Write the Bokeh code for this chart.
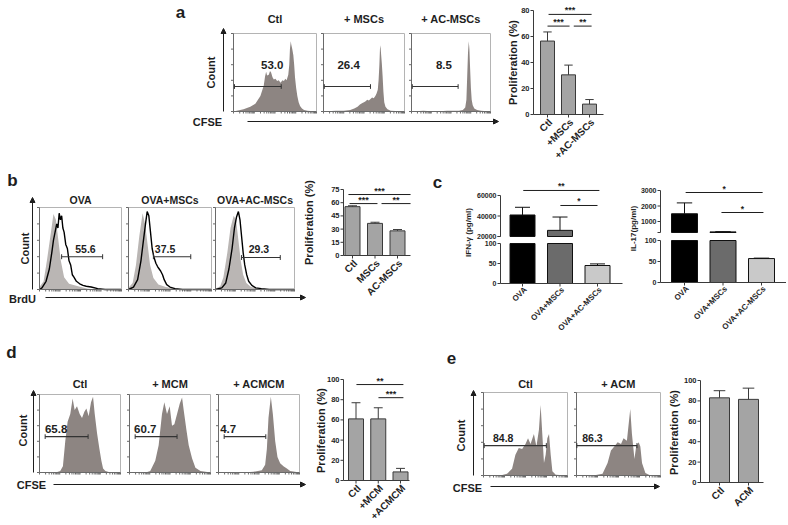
import math
from bokeh.plotting import figure
from bokeh.models import Range1d, Arrow, NormalHead
from bokeh.embed import file_html
from bokeh.resources import INLINE
from bokeh.core.properties import value

FONT = "Liberation Sans"
INK = "#1e1e1e"
BOX = "#b4b4b4"
FLOW_FILL = "#8d8582"
ISO_FILL = "#bab6b4"
BAR_FILL = "#a4a4a4"
BAR_LINE = "#3a3a3a"

# ------------------------------------------------------------------ data
# flow histograms: x = channel (0-1000 across the window), y = relative count (0-100)
a_titles = ["Ctl", "+ MSCs", "+ AC-MSCs"]
a_ctl_x = [0, 40, 121, 202, 263, 324, 364, 380, 393, 405, 425, 440, 453, 470, 486, 505, 526, 545, 567, 590,
           607, 625, 640, 660, 672, 680, 690, 696, 708, 721, 731, 741, 755, 769, 785, 802, 825, 850, 891, 1000]
a_ctl_y = [0, 1, 3, 6, 10, 20, 33, 45, 51, 46, 47, 52, 50, 44, 41, 42, 39, 40, 37, 40,
           39, 42, 40, 47, 60, 80, 90, 86, 80, 72, 60, 44, 30, 20, 12, 7, 4, 2, 1, 0]
a_msc_x = [0, 150, 250, 330, 380, 420, 450, 480, 500, 520, 540, 560, 580, 600, 620, 640, 655, 670, 680, 690,
           697, 703, 710, 720, 730, 740, 750, 765, 790, 830, 1000]
a_msc_y = [0, 1, 1, 2, 4, 6, 9, 11, 12, 13, 15, 14, 16, 18, 17, 20, 23, 28, 40, 60,
           80, 85, 75, 62, 45, 25, 12, 6, 3, 1, 0]
a_ac_x = [0, 150, 300, 450, 600, 650, 680, 695, 705, 715, 725, 733, 742, 752, 762, 775, 795, 830, 880, 1000]
a_ac_y = [0, 1, 0, 1, 1, 2, 5, 15, 45, 75, 90, 80, 55, 30, 15, 8, 4, 2, 1, 0]
a_gate_start = [12, 10, 10]
a_gate_end = [575, 580, 590]
a_gate_level = [32, 32, 32]
a_pct = ["53.0", "26.4", "8.5"]

b_titles = ["OVA", "OVA+MSCs", "OVA+AC-MSCs"]
b_ova_iso_x = [0, 50, 90, 140, 170, 200, 230, 260, 300, 360, 470, 590, 700, 1000]
b_ova_iso_y = [3, 10, 35, 70, 92, 85, 60, 35, 15, 7, 4, 1, 0, 0]
b_ova_x = [0, 30, 80, 120, 150, 170, 190, 210, 225, 240, 255, 270, 285, 300, 320, 340, 360, 380, 400, 420,
           450, 490, 530, 570, 630, 710, 800, 1000]
b_ova_y = [0, 2, 10, 25, 45, 60, 70, 80, 75, 93, 85, 90, 75, 70, 55, 50, 35, 30, 18, 15,
           10, 7, 5, 4, 3, 1, 0, 0]
b_msc_iso_x = [0, 50, 90, 130, 170, 200, 230, 260, 300, 360, 450, 560, 700, 1000]
b_msc_iso_y = [2, 8, 30, 65, 93, 80, 55, 30, 14, 6, 3, 1, 0, 0]
b_msc_x = [0, 60, 110, 150, 180, 205, 225, 245, 265, 285, 305, 330, 350, 370, 390, 410, 430, 460, 500, 560, 650, 1000]
b_msc_y = [0, 3, 12, 35, 60, 80, 95, 90, 70, 50, 40, 32, 28, 25, 22, 18, 12, 6, 3, 1, 0, 0]
b_ac_iso_x = [0, 60, 100, 150, 190, 230, 260, 290, 320, 350, 390, 450, 550, 650, 1000]
b_ac_iso_y = [1, 4, 15, 45, 75, 90, 85, 60, 35, 18, 8, 3, 1, 0, 0]
b_ac_x = [0, 80, 130, 170, 210, 240, 265, 290, 310, 330, 350, 370, 395, 420, 460, 510, 580, 680, 1000]
b_ac_y = [0, 2, 8, 25, 50, 75, 88, 95, 85, 65, 45, 30, 18, 10, 5, 2, 1, 0, 0]
b_gate_start = [270, 300, 330]
b_gate_end = [770, 750, 820]
b_gate_level = [40, 40, 39]
b_pct = ["55.6", "37.5", "29.3"]

d_titles = ["Ctl", "+ MCM", "+ ACMCM"]
d_ctl_x = [0, 200, 256, 289, 318, 347, 380, 409, 434, 463, 496, 525, 554, 579, 607, 636, 661, 682, 711, 740,
           764, 785, 814, 876, 1000]
d_ctl_y = [0, 0, 2, 8, 40, 65, 75, 95, 80, 85, 75, 70, 78, 82, 72, 90, 97, 75, 50, 30, 15, 5, 2, 0, 0]
d_mcm_x = [0, 200, 256, 318, 360, 401, 430, 463, 496, 525, 554, 587, 620, 649, 669, 702, 731, 773, 814, 876, 1000]
d_mcm_y = [0, 0, 2, 15, 35, 75, 90, 75, 85, 60, 62, 75, 88, 96, 80, 55, 35, 18, 6, 2, 0]
d_acm_x = [0, 300, 432, 535, 576, 597, 617, 646, 671, 700, 728, 761, 802, 844, 885, 1000]
d_acm_y = [0, 0, 1, 3, 10, 30, 70, 97, 75, 40, 20, 12, 8, 5, 2, 0]
d_gate_start = [70, 70, 70]
d_gate_end = [600, 587, 584]
d_gate_level = [46, 46, 46]
d_pct = ["65.8", "60.7", "4.7"]

e_titles = ["Ctl", "+ ACM"]
e_ctl_x = [0, 200, 280, 340, 380, 420, 460, 500, 530, 560, 600, 630, 660, 680, 700, 720, 740, 760, 780, 800,
           820, 860, 1000]
e_ctl_y = [0, 0, 2, 8, 25, 33, 32, 38, 45, 38, 50, 35, 55, 85, 50, 15, 25, 45, 50, 25, 5, 1, 0]
e_acm_x = [0, 200, 310, 370, 410, 450, 490, 530, 560, 600, 640, 660, 690, 710, 740, 760, 780, 820, 880, 1000]
e_acm_y = [0, 0, 2, 15, 30, 35, 40, 38, 45, 42, 80, 50, 20, 35, 40, 35, 15, 3, 0, 0]
e_gate_start = [8, 4]
e_gate_end = [748, 720]
e_gate_level = [36, 36]
e_pct = ["84.8", "86.3"]

flow_count_ticks = [0, 20, 40, 60, 80, 100]

# bar charts
a_cats = ["Ctl", "+MSCs", "+AC-MSCs"]
a_vals = [56.5, 30.5, 8.0]
a_err = [7.0, 7.5, 3.5]
a_ticks = [0, 20, 40, 60, 80]
a_sig_from = [0.05, 0.0, 1.25]
a_sig_to = [2.1, 1.05, 2.1]
a_sig_level = [77, 68, 68]
a_sig_text = ["***", "***", "**"]

b_cats = ["Ctl", "MSCs", "AC-MSCs"]
b_vals = [55.5, 36.5, 28.0]
b_err = [1.0, 1.3, 1.5]
b_ticks = [0, 15, 30, 45, 60, 75]
b_sig_from = [-0.18, -0.13, 1.29]
b_sig_to = [2.58, 1.11, 2.58]
b_sig_level = [69.3, 59, 59]
b_sig_text = ["***", "***", "**"]

c_cats = ["OVA", "OVA+MSCs", "OVA+AC-MSCs"]
c_colors = ["#000000", "#6b6b6b", "#c9c9c9"]
ifn_vals = [41000, 26000, 45]
ifn_err = [7500, 13000, 4]
ifn_low_ticks = [0, 50, 100]
ifn_up_ticks = [20000, 40000, 60000]
ifn_sig_from = [0.02, 1.01]
ifn_sig_to = [2.05, 2.0]
ifn_sig_level = [64900, 50250]
ifn_sig_text = ["**", "*"]
il17_vals = [1500, 330, 57]
il17_err = [700, 15, 1]
il17_low_ticks = [0, 50, 100]
il17_up_ticks = [1000, 2000, 3000]
il17_up_min = 290
il17_sig_from = [0.03, 0.96]
il17_sig_to = [2.03, 2.05]
il17_sig_level = [2870, 1580]
il17_sig_text = ["*", "*"]

d_cats = ["Ctl", "+MCM", "+ACMCM"]
d_vals = [61, 61, 8.5]
d_err = [16, 11, 3.5]
d_ticks = [0, 20, 40, 60, 80, 100]
d_sig_from = [0.02, 1.01]
d_sig_to = [2.13, 2.13]
d_sig_level = [95, 82]
d_sig_text = ["**", "***"]

e_cats = ["Ctl", "ACM"]
e_vals = [83, 81.5]
e_err = [7, 11]
e_ticks = [0, 20, 40, 60, 80, 100]

# ------------------------------------------------------------------ canvas
# the page template has no body margin, so the canvas starts at the window's top-left corner
X0, X1, Y0, Y1 = 0, 786, 0, 523
p = figure(width=X1 - X0, height=Y1 - Y0, x_range=Range1d(X0, X1), y_range=Range1d(Y1, Y0),
           output_backend="svg", toolbar_location=None, min_border=0,
           x_axis_location=None, y_axis_location=None)
p.grid.visible = False
p.outline_line_color = None
p.background_fill_color = "white"

XR, YR = {}, {}


def mk_range(v0, p0, v1, p1, lo, hi):
    s = (v1 - v0) / (p1 - p0)
    return Range1d(start=v0 + (lo - p0) * s, end=v0 + (hi - p0) * s)


def frame(name, xmap, ymap):
    XR[name] = mk_range(*xmap, X0, X1)
    YR[name] = mk_range(*ymap, Y1, Y0)
    return dict(x_range_name=name, y_range_name=name)


def txt(x, y, s, size, k=None, angle=0.0, align="center", base="middle", bold=True, color=INK, xo=0, yo=0):
    k = k or {}
    xs = x if isinstance(x, list) else [x]
    ys = y if isinstance(y, list) else [y] * len(xs)
    ss = s if isinstance(s, list) else [s] * len(xs)
    p.text(x=xs, y=ys, text=ss, angle=angle, text_align=align, text_baseline=base,
           text_font=value(FONT), text_font_size=f"{size}px",
           text_font_style="bold" if bold else "normal", text_color=color,
           x_offset=xo, y_offset=yo, **k)


def arrow(xs, ys, xe, ye):
    p.add_layout(Arrow(x_start=xs, y_start=ys, x_end=xe, y_end=ye, line_color=INK, line_width=1,
                       end=NormalHead(size=5, fill_color=INK, line_color=INK)))


# minor log ticks for the flow channel axis (4 decades across the window)
flow_ch_ticks = [250 * (d + math.log10(m)) for d in range(4) for m in range(1, 10)] + [1000]


def flow(name, box, hx, hy, g0, g1, gl, lab, lab_x, lab_y, lab_size, iso=None):
    L, R, T, B = box
    k = frame(name, (0, L, 1000, R), (0, B, 100, T))
    if iso is None:
        p.varea(x=hx, y1=0, y2=hy, fill_color=FLOW_FILL, **k)
    else:
        p.varea(x=iso[0], y1=0, y2=iso[1], fill_color=ISO_FILL, **k)
        p.line(x=hx, y=hy, line_color="black", line_width=1.4, **k)
    p.quad(left=[0], right=[1000], bottom=[0], top=[100], fill_color=None, line_color=BOX, line_width=1, **k)
    p.segment(x0=[0, 0], y0=[0, 0], x1=[0, 1000], y1=[100, 0], line_color="#6a6a6a", line_width=1, **k)
    p.ray(x=0, y=flow_count_ticks, length=2.5, length_units="screen", angle=math.pi,
          line_color="#6a6a6a", line_width=1, **k)
    p.ray(x=flow_ch_ticks, y=0, length=2, length_units="screen", angle=-math.pi / 2,
          line_color="#6a6a6a", line_width=1, **k)
    # gate
    p.segment(x0=[g0], y0=[gl], x1=[g1], y1=[gl], line_color="#333333", line_width=1.1, **k)
    p.segment(x0=[g0, g1], y0=[gl - 3, gl - 3], x1=[g0, g1], y1=[gl + 3, gl + 3],
              line_color="#333333", line_width=1, **k)
    txt(lab_x, lab_y, lab, lab_size, k)
    return k


def bar_chart(name, cats, vals, errs, ticks, lay, colors=None, cat_size=10, tick_size=7.5,
              ylab=None, ylab_size=11, sig=None, cat_angle=math.pi / 4):
    c0, c1, n1 = lay["centers"]
    (v0, p0), (v1, p1) = lay["y"]
    k = frame(name, (0, c0, n1, c1), (v0, p0, v1, p1))
    spacing = (c1 - c0) / n1
    idx = list(range(len(vals)))
    ax = (lay["axis"] - c0) / spacing
    xe = (lay["xend"] - c0) / spacing
    w = lay["width"] / spacing
    p.vbar(x=idx, width=w, top=vals, bottom=0, fill_color=colors or BAR_FILL,
           line_color=BAR_LINE, line_width=1, **k)
    tops = [v + e for v, e in zip(vals, errs)]
    p.segment(x0=idx, y0=vals, x1=idx, y1=tops, line_color=BAR_LINE, line_width=1, **k)
    p.segment(x0=[i - 0.2 for i in idx], y0=tops, x1=[i + 0.2 for i in idx], y1=tops,
              line_color=BAR_LINE, line_width=1, **k)
    # axes
    p.segment(x0=[ax], y0=[ticks[0]], x1=[ax], y1=[ticks[-1]], line_color=BAR_LINE, line_width=1, **k)
    p.segment(x0=[ax], y0=[0], x1=[xe], y1=[0], line_color=BAR_LINE, line_width=1, **k)
    p.ray(x=ax, y=ticks, length=3, length_units="screen", angle=math.pi, line_color=BAR_LINE, **k)
    p.ray(x=idx, y=0, length=3, length_units="screen", angle=-math.pi / 2, line_color=BAR_LINE, **k)
    txt([ax] * len(ticks), ticks, [str(t) for t in ticks], tick_size, k, align="right", xo=-4)
    txt(idx, [0] * len(idx), cats, cat_size, k, angle=cat_angle, align="right", xo=3, yo=6)
    if sig:
        f, t, lv, s = sig
        p.segment(x0=f, y0=lv, x1=t, y1=lv, line_color=INK, line_width=1, **k)
        txt([(a + b) / 2 for a, b in zip(f, t)], lv, s, 9, k, yo=-4)
    if ylab:
        txt(lay["ylab"][0], lay["ylab"][1], ylab, ylab_size, angle=math.pi / 2)
    return k


# ------------------------------------------------------------------ panel a
txt(180, 12, "a", 17)
a_boxes = [(233, 316, 33, 111), (323, 404, 33, 111), (411, 490, 33, 111)]
a_hist = [(a_ctl_x, a_ctl_y), (a_msc_x, a_msc_y), (a_ac_x, a_ac_y)]
a_lab_x = [466, 310, 410]
for i in range(3):
    flow(f"fa{i}", a_boxes[i], a_hist[i][0], a_hist[i][1], a_gate_start[i], a_gate_end[i],
         a_gate_level[i], a_pct[i], a_lab_x[i], 59, 11.5)
    txt((a_boxes[i][0] + a_boxes[i][1]) / 2, 18, a_titles[i], 11)
arrow(223, 111, 223, 28)
txt(210, 72, "Count", 11, angle=math.pi / 2)
txt(207, 121, "CFSE", 11)
arrow(247, 121, 498, 121)
bar_chart("ba", a_cats, a_vals, a_err, a_ticks,
          dict(centers=(547, 589, 2), y=((0, 114), (80, 10)), axis=533, xend=603, width=14, ylab=(512, 62)),
          ylab="Proliferation (%)", sig=(a_sig_from, a_sig_to, a_sig_level, a_sig_text))

# ------------------------------------------------------------------ panel b
txt(12, 180, "b", 17)
b_boxes = [(39, 121, 207, 289), (128, 211, 207, 289), (215, 294, 207, 289)]
b_hist = [(b_ova_x, b_ova_y, b_ova_iso_x, b_ova_iso_y), (b_msc_x, b_msc_y, b_msc_iso_x, b_msc_iso_y),
          (b_ac_x, b_ac_y, b_ac_iso_x, b_ac_iso_y)]
b_lab_x = [560, 440, 550]
for i in range(3):
    hx, hy, ix, iy = b_hist[i]
    flow(f"fb{i}", b_boxes[i], hx, hy, b_gate_start[i], b_gate_end[i], b_gate_level[i],
         b_pct[i], b_lab_x[i], 50, 10.5, iso=(ix, iy))
    txt((b_boxes[i][0] + b_boxes[i][1]) / 2, 199, b_titles[i], 10.5)
arrow(32, 289, 32, 197)
txt(24, 248, "Count", 11, angle=math.pi / 2)
txt(22, 298, "BrdU", 11)
arrow(45, 297, 305, 297)
bar_chart("bb", b_cats, b_vals, b_err, b_ticks,
          dict(centers=(352, 397, 2), y=((0, 255), (75, 189)), axis=343, xend=410, width=15, ylab=(308, 222)),
          ylab="Proliferation (%)", sig=(b_sig_from, b_sig_to, b_sig_level, b_sig_text))

# ------------------------------------------------------------------ panel c


def broken_chart(name, vals, errs, low_ticks, up_ticks, up_min, lay, ylab, sig):
    c0, c1, n1 = lay["centers"]
    spacing = (c1 - c0) / n1
    kl = frame(name + "l", (0, c0, n1, c1), lay["low"][0] + lay["low"][1])
    ku = frame(name + "u", (0, c0, n1, c1), lay["up"][0] + lay["up"][1])
    idx = list(range(len(vals)))
    ax = (lay["axis"] - c0) / spacing
    xe = (lay["xend"] - c0) / spacing
    w = lay["width"] / spacing
    top_low = low_ticks[-1]
    p.vbar(x=idx, width=w, top=[min(v, top_low) for v in vals], bottom=0, fill_color=c_colors,
           line_color="#111111", line_width=1, **kl)
    ui = [i for i in idx if vals[i] > up_min]
    p.vbar(x=ui, width=w, top=[vals[i] for i in ui], bottom=up_min, fill_color=[c_colors[i] for i in ui],
           line_color="#111111", line_width=1, **ku)
    for i in idx:
        kk = ku if vals[i] > up_min else kl
        t = vals[i] + errs[i]
        p.segment(x0=[i], y0=[vals[i]], x1=[i], y1=[t], line_color="#111111", **kk)
        p.segment(x0=[i - 0.2], y0=[t], x1=[i + 0.2], y1=[t], line_color="#111111", **kk)
    p.segment(x0=[ax], y0=[low_ticks[0]], x1=[ax], y1=[low_ticks[-1]], line_color=BAR_LINE, **kl)
    p.segment(x0=[ax], y0=[up_min], x1=[ax], y1=[up_ticks[-1]], line_color=BAR_LINE, **ku)
    p.segment(x0=[ax], y0=[0], x1=[xe], y1=[0], line_color=BAR_LINE, **kl)
    p.ray(x=ax, y=low_ticks, length=3, length_units="screen", angle=math.pi, line_color=BAR_LINE, **kl)
    p.ray(x=ax, y=up_ticks + [up_min], length=3, length_units="screen", angle=math.pi, line_color=BAR_LINE, **ku)
    p.ray(x=idx, y=0, length=3, length_units="screen", angle=-math.pi / 2, line_color=BAR_LINE, **kl)
    txt([ax] * len(low_ticks), low_ticks, [str(t) for t in low_ticks], 7, kl, align="right", xo=-4)
    txt([ax] * len(up_ticks), up_ticks, [str(t) for t in up_ticks], 7, ku, align="right", xo=-4)
    txt(idx, [0] * len(idx), c_cats, 8, kl, angle=math.pi / 4, align="right", xo=3, yo=5)
    f, t, lv, s = sig
    p.segment(x0=f, y0=lv, x1=t, y1=lv, line_color=INK, line_width=1, **ku)
    txt([(a + b) / 2 for a, b in zip(f, t)], lv, s, 8.5, ku, yo=-4)
    txt(lay["ylab"][0], lay["ylab"][1], ylab, 8, angle=math.pi / 2)


txt(437, 182, "c", 17)
broken_chart("ifn", ifn_vals, ifn_err, ifn_low_ticks, ifn_up_ticks, ifn_up_ticks[0],
             dict(centers=(522, 597, 2), low=((0, 283), (100, 243)), up=((20000, 236), (60000, 195)),
                  axis=500, xend=622, width=25, ylab=(468, 232)),
             "IFN-γ (pg/ml)", (ifn_sig_from, ifn_sig_to, ifn_sig_level, ifn_sig_text))
broken_chart("il17", il17_vals, il17_err, il17_low_ticks, il17_up_ticks, il17_up_min,
             dict(centers=(684, 761, 2), low=((0, 282), (100, 240)), up=((1000, 221), (3000, 190)),
                  axis=660, xend=786, width=26, ylab=(633, 228)),
             "IL-17(pg/ml)", (il17_sig_from, il17_sig_to, il17_sig_level, il17_sig_text))

# ------------------------------------------------------------------ panel d
txt(11, 352, "d", 17)
d_boxes = [(39, 120, 394, 472), (129, 210, 394, 472), (218, 299, 394, 472)]
d_hist = [(d_ctl_x, d_ctl_y), (d_mcm_x, d_mcm_y), (d_acm_x, d_acm_y)]
d_lab_x = [205, 195, 120]
for i in range(3):
    flow(f"fd{i}", d_boxes[i], d_hist[i][0], d_hist[i][1], d_gate_start[i], d_gate_end[i],
         d_gate_level[i], d_pct[i], d_lab_x[i], 56, 11.5)
    txt((d_boxes[i][0] + d_boxes[i][1]) / 2, 383, d_titles[i], 11)
arrow(33, 472, 33, 390)
txt(22, 430, "Count", 11, angle=math.pi / 2)
txt(31, 484, "CFSE", 11)
arrow(53, 484, 305, 484)
bar_chart("bd", d_cats, d_vals, d_err, d_ticks,
          dict(centers=(355.5, 400, 2), y=((0, 480), (100, 379)), axis=343, xend=409, width=15, ylab=(320, 430)),
          ylab="Proliferation (%)", sig=(d_sig_from, d_sig_to, d_sig_level, d_sig_text))

# ------------------------------------------------------------------ panel e
txt(451, 357, "e", 17)
e_boxes = [(483, 567, 392, 475), (576, 660, 392, 475)]
e_hist = [(e_ctl_x, e_ctl_y), (e_acm_x, e_acm_y)]
e_lab_x = [235, 190]
for i in range(2):
    flow(f"fe{i}", e_boxes[i], e_hist[i][0], e_hist[i][1], e_gate_start[i], e_gate_end[i],
         e_gate_level[i], e_pct[i], e_lab_x[i], 45, 10.5)
    txt((e_boxes[i][0] + e_boxes[i][1]) / 2, 383, e_titles[i], 11)
arrow(473, 475, 473, 390)
txt(460, 435, "Count", 11, angle=math.pi / 2)
txt(467, 487, "CFSE", 11)
arrow(490, 486, 659, 486)
bar_chart("be", e_cats, e_vals, e_err, e_ticks,
          dict(centers=(719, 748, 1), y=((0, 482), (100, 380)), axis=700, xend=763, width=20, ylab=(673, 432)),
          ylab="Proliferation (%)")

p.extra_x_ranges = XR
p.extra_y_ranges = YR

open("out.html", "w").write(file_html(p, INLINE))
